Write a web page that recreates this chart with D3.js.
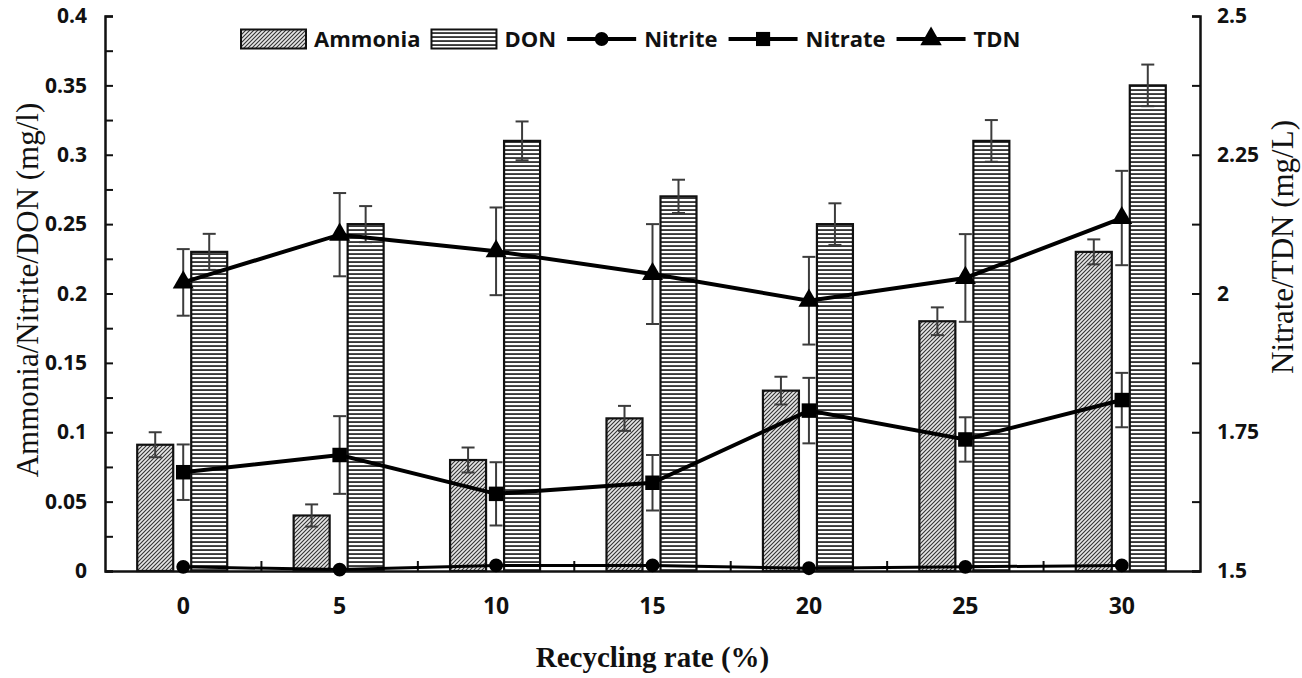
<!DOCTYPE html>
<html>
<head>
<meta charset="utf-8">
<script src="https://cdn.jsdelivr.net/npm/d3@7"></script>
<style>
  body { margin: 0; background: #fff; }
  svg { display: block; }
</style>
</head>
<body>
<svg width="1302" height="678"></svg>
<script>
// data
const categories = ['0', '5', '10', '15', '20', '25', '30'];
const ammonia    = [0.091, 0.040, 0.080, 0.110, 0.130, 0.180, 0.230];
const ammoniaErr = [0.009, 0.008, 0.009, 0.009, 0.010, 0.010, 0.009];
const don        = [0.230, 0.250, 0.310, 0.270, 0.250, 0.310, 0.350];
const donErr     = [0.013, 0.013, 0.014, 0.012, 0.015, 0.015, 0.015];
const nitrite    = [0.003, 0.001, 0.004, 0.004, 0.002, 0.003, 0.004];
const nitrate    = [1.678, 1.709, 1.639, 1.659, 1.789, 1.737, 1.808];
const nitrateErr = [0.050, 0.070, 0.057, 0.050, 0.059, 0.040, 0.049];
const tdn        = [2.020, 2.106, 2.076, 2.035, 1.987, 2.028, 2.136];
const tdnErr     = [0.060, 0.075, 0.079, 0.090, 0.079, 0.079, 0.085];

const leftTicks  = d3.range(0, 0.4001, 0.025);
const rightTicks = d3.range(1.5, 2.5001, 0.125);

const svg = d3.select('svg');

const mLeft = 105, mRight = 1200, mTop = 16, mBottom = 571;
const tickFont = '"Open Sans", "DejaVu Sans", sans-serif';
const titleFont = '"Liberation Serif", "Times New Roman", serif';
const errColor = '#3c3c3c';

// scales
const x = d3.scaleBand().domain(categories).range([mLeft, mRight]).padding(0);
const xBar = d3.scaleBand().domain(['Ammonia', 'DON']).range([-46, 44]).paddingInner(1 / 3);
const yL = d3.scaleLinear().domain([0, 0.4]).range([mBottom, mTop]);
const yR = d3.scaleLinear().domain([1.5, 2.5]).range([mBottom, mTop]);
const cx = c => x(c) + x.bandwidth() / 2;

// patterns
const defs = svg.append('defs');
const hatch = defs.append('pattern').attr('id', 'hatch')
    .attr('patternUnits', 'userSpaceOnUse').attr('width', 4).attr('height', 4);
hatch.append('rect').attr('width', 4).attr('height', 4).attr('fill', '#e6e6e6');
hatch.append('path').attr('d', 'M-1,1 l2,-2 M0,4 l4,-4 M3,5 l2,-2')
    .attr('stroke', '#333').attr('stroke-width', 1.1);

const hlines = defs.append('pattern').attr('id', 'hlines')
    .attr('patternUnits', 'userSpaceOnUse').attr('width', 6).attr('height', 4);
hlines.append('rect').attr('width', 6).attr('height', 4).attr('fill', '#fff');
hlines.append('rect').attr('y', 1.2).attr('width', 6).attr('height', 1.7).attr('fill', '#222');

// axes
const fmt = d => String(+d.toFixed(3));

const gL = svg.append('g').attr('transform', `translate(${mLeft},0)`)
    .call(d3.axisLeft(yL).tickValues(leftTicks).tickSize(-8).tickPadding(18)
        .tickFormat(d => (Math.round(d * 1000) % 50 === 0 ? fmt(d) : '')));

const gR = svg.append('g').attr('transform', `translate(${mRight},0)`)
    .call(d3.axisRight(yR).tickValues(rightTicks).tickSize(-8).tickPadding(17)
        .tickFormat(d => (Math.round(d * 1000) % 250 === 0 ? fmt(d) : '')));

const gX = svg.append('g').attr('transform', `translate(0,${mBottom})`)
    .call(d3.axisBottom(x).tickSize(0).tickPadding(27));

[gL, gR, gX].forEach(g => {
    g.select('.domain').attr('stroke', '#111').attr('stroke-width', 2.5);
    g.selectAll('.tick line').attr('stroke', '#111').attr('stroke-width', 2);
    g.selectAll('text').attr('font-family', tickFont).attr('font-weight', 700)
        .attr('font-size', 21).attr('fill', '#111');
});
gX.selectAll('text').attr('font-size', 23);

// category boundary ticks on x axis
svg.append('g').selectAll('line')
    .data(categories.slice(1))
    .enter().append('line')
    .attr('x1', d => x(d)).attr('x2', d => x(d))
    .attr('y1', mBottom).attr('y2', mBottom - 10)
    .attr('stroke', '#111').attr('stroke-width', 2);

// axis titles
svg.append('text')
    .attr('transform', `translate(${(mLeft + mRight) / 2},667)`)
    .attr('text-anchor', 'middle')
    .attr('font-family', titleFont).attr('font-weight', 700).attr('font-size', 29)
    .attr('fill', '#111')
    .text('Recycling rate (%)');

svg.append('text')
    .attr('transform', 'translate(38,290) rotate(-90)')
    .attr('text-anchor', 'middle')
    .attr('font-family', titleFont).attr('font-size', 31)
    .attr('fill', '#111')
    .text('Ammonia/Nitrite/DON (mg/l)');

svg.append('text')
    .attr('transform', 'translate(1293,247) rotate(-90)')
    .attr('text-anchor', 'middle')
    .attr('font-family', titleFont).attr('font-size', 31)
    .attr('fill', '#111')
    .text('Nitrate/TDN (mg/L)');

// bars
const barSeries = [
    { key: 'Ammonia', values: ammonia, errs: ammoniaErr, fill: 'url(#hatch)' },
    { key: 'DON', values: don, errs: donErr, fill: 'url(#hlines)' }
];

barSeries.forEach(s => {
    const rows = categories.map((c, i) => ({ c, v: s.values[i], e: s.errs[i] }));
    svg.append('g').selectAll('rect')
        .data(rows)
        .enter().append('rect')
        .attr('x', d => x(d.c) + x.bandwidth() / 2 + xBar(s.key))
        .attr('y', d => yL(d.v))
        .attr('width', xBar.bandwidth())
        .attr('height', d => yL(0) - yL(d.v))
        .attr('fill', s.fill)
        .attr('stroke', '#111')
        .attr('stroke-width', 2.2);
});

// error bars helper
const errBars = (rows, xf, scale) => {
    const g = svg.append('g').attr('stroke', errColor).attr('stroke-width', 2);
    rows.forEach(d => {
        const px = xf(d);
        const y1 = scale(d.v - d.e), y2 = scale(d.v + d.e);
        g.append('line').attr('x1', px).attr('x2', px).attr('y1', y1).attr('y2', y2);
        g.append('line').attr('x1', px - 6.5).attr('x2', px + 6.5).attr('y1', y1).attr('y2', y1);
        g.append('line').attr('x1', px - 6.5).attr('x2', px + 6.5).attr('y1', y2).attr('y2', y2);
    });
};

barSeries.forEach(s => {
    const rows = categories.map((c, i) => ({ c, v: s.values[i], e: s.errs[i] }));
    errBars(rows, d => cx(d.c) + xBar(s.key) + xBar.bandwidth() / 2, yL);
});

// line series
const lineSeries = [
    { key: 'Nitrate', values: nitrate, errs: nitrateErr, scale: yR, symbol: d3.symbolSquare, size: 210 },
    { key: 'TDN', values: tdn, errs: tdnErr, scale: yR, symbol: d3.symbolTriangle, size: 190 },
    { key: 'Nitrite', values: nitrite, errs: null, scale: yL, symbol: d3.symbolCircle, size: 150 }
];

lineSeries.forEach(s => {
    const rows = categories.map((c, i) => ({ c, v: s.values[i], e: s.errs ? s.errs[i] : 0 }));
    if (s.errs) errBars(rows, d => cx(d.c), s.scale);
    const line = d3.line().x(d => cx(d.c)).y(d => s.scale(d.v));
    svg.append('path').datum(rows)
        .attr('d', line)
        .attr('fill', 'none')
        .attr('stroke', '#000')
        .attr('stroke-width', s.key === 'Nitrite' ? 3 : 4);
    svg.append('g').selectAll('path')
        .data(rows)
        .enter().append('path')
        .attr('transform', d => `translate(${cx(d.c)},${s.scale(d.v)})`)
        .attr('d', d3.symbol().type(s.symbol).size(s.size))
        .attr('fill', '#000');
});

// legend
const legend = svg.append('g').attr('transform', 'translate(241,39)');
const legendItems = [
    { key: 'Ammonia', type: 'bar', fill: 'url(#hatch)' },
    { key: 'DON', type: 'bar', fill: 'url(#hlines)' },
    { key: 'Nitrite', type: 'line', symbol: d3.symbolCircle, size: 150 },
    { key: 'Nitrate', type: 'line', symbol: d3.symbolSquare, size: 200 },
    { key: 'TDN', type: 'line', symbol: d3.symbolTriangle, size: 200 }
];
let lx = 0;
legendItems.forEach(it => {
    const g = legend.append('g').attr('transform', `translate(${lx},0)`);
    if (it.type === 'bar') {
        g.append('rect').attr('x', 0).attr('y', -9.5).attr('width', 65).attr('height', 19)
            .attr('fill', it.fill).attr('stroke', '#111').attr('stroke-width', 2);
    } else {
        g.append('line').attr('x1', 0).attr('x2', 69).attr('y1', 0).attr('y2', 0)
            .attr('stroke', '#000').attr('stroke-width', 4);
        g.append('path').attr('transform', 'translate(34.5,0)')
            .attr('d', d3.symbol().type(it.symbol).size(it.size)).attr('fill', '#000');
    }
    const sw = it.type === 'bar' ? 65 : 69;
    const t = g.append('text').attr('x', sw + 8).attr('y', 0).attr('dy', '0.35em')
        .attr('font-family', tickFont).attr('font-weight', 700).attr('font-size', 22)
        .attr('fill', '#111').text(it.key);
    lx += sw + 8 + t.node().getComputedTextLength() + 11;
});
</script>
</body>
</html>
